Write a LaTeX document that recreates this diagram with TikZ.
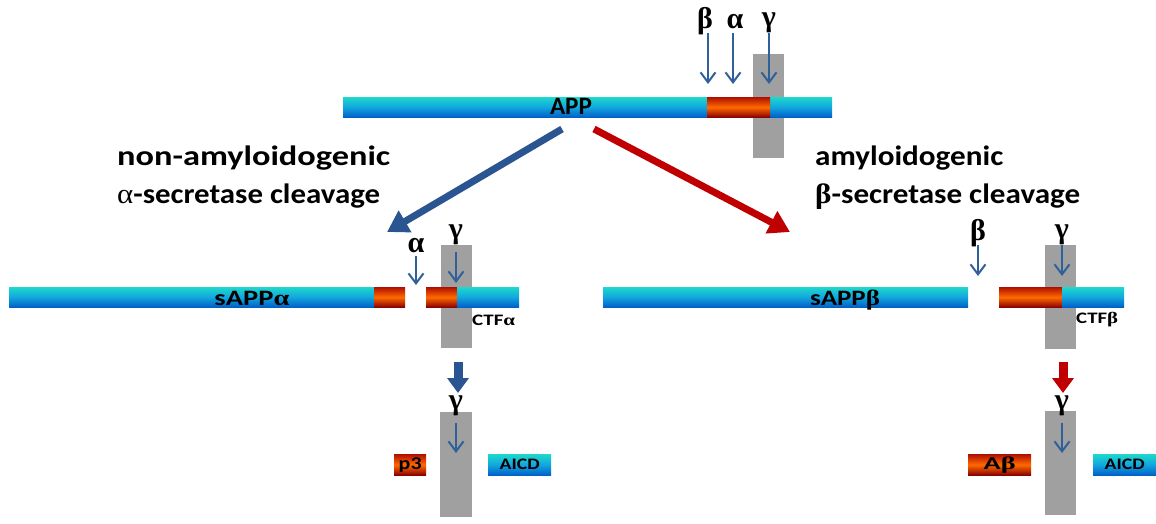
\documentclass[tikz,border=0pt]{standalone}
\usepackage{graphicx}
\usepackage{fontspec}
\setmainfont{Carlito}
\newfontfamily\grk{Liberation Serif}
\usetikzlibrary{arrows.meta}
\definecolor{barTop}{HTML}{1ED8CC}
\definecolor{barMid}{HTML}{12A6DE}
\definecolor{barBot}{HTML}{0060C8}
\definecolor{rTop}{HTML}{B01000}
\definecolor{rMid}{HTML}{FF6A00}
\definecolor{rBot}{HTML}{8A0000}
\definecolor{memb}{HTML}{A0A0A0}
\definecolor{arrBlue}{HTML}{30609A}
\definecolor{bigBlue}{HTML}{2B5590}
\definecolor{bigRed}{HTML}{C00000}
\newcommand{\fitw}[2]{\resizebox{#1}{\height}{#2}}
\tikzset{
  cyanbar/.style={top color=barTop, bottom color=barBot, middle color=barMid, draw=none, inner sep=0pt, anchor=north west},
  redbar/.style={top color=rTop, bottom color=rBot, middle color=rMid, draw=none, inner sep=0pt, anchor=north west},
  membrane/.style={fill=memb, draw=none, inner sep=0pt, anchor=north west},
  greek/.style={font=\grk\bfseries\fontsize{30}{32}\selectfont, inner sep=0pt, anchor=base},
  cutarrow/.style={draw=arrBlue, line width=2pt, -{Straight Barb[length=10pt,width=15pt,line width=2pt]}},
  bigarrow/.style={line width=7pt, -{Triangle[length=21pt,width=24pt]}},
  downarrow/.style={line width=9pt, -{Triangle[length=15pt,width=21pt]}},
  heading/.style={font=\bfseries\fontsize{28}{30}\selectfont, inner sep=0pt, anchor=base west},
  barlabel/.style={font=\bfseries\fontsize{22}{24}\selectfont, inner sep=0pt, anchor=base},
  smalllabel/.style={font=\bfseries\fontsize{16}{17}\selectfont, inner sep=0pt},
}
\begin{document}
\begin{tikzpicture}[x=1pt,y=-1pt]
\useasboundingbox (0,0) rectangle (1156,523);
% ---------- top: APP ----------
\node[membrane, minimum width=31pt, minimum height=104pt] (m0) at (753,54) {};
\node[cyanbar, minimum width=489pt, minimum height=20pt] (app) at (343,97) {};
\node[redbar, minimum width=63pt, minimum height=20pt] (appab) at (707,97) {};
\node[barlabel, font=\bfseries\fontsize{25}{26}\selectfont] (applbl) at (571,114) {\fitw{42pt}{APP}};
\node[greek] (b0) at (705,28) {β};
\node[greek] (a0) at (735,28) {α};
\node[greek] (g0) at (769,26) {γ};
\coordinate (b0s) at (708,33); \coordinate (b0e) at (708,84);
\coordinate (a0s) at (733,33); \coordinate (a0e) at (733,84);
\coordinate (g0s) at (769,33); \coordinate (g0e) at (769,84);
\draw[cutarrow] (b0s) -- (b0e);
\draw[cutarrow] (a0s) -- (a0e);
\draw[cutarrow] (g0s) -- (g0e);
% big arrows
\coordinate (ls) at (562,129); \coordinate (le) at (387,232);
\coordinate (rs) at (594,129); \coordinate (re) at (790,232);
\draw[bigarrow, draw=bigBlue, fill=bigBlue] (ls) -- (le);
\draw[bigarrow, draw=bigRed, fill=bigRed] (rs) -- (re);
% headings
\node[heading] (h1) at (117,165) {\fitw{273pt}{non-amyloidogenic}};
\node[heading] (h2) at (117,203) {\fitw{263pt}{{\grk\mdseries α}-secretase cleavage}};
\node[heading] (h3) at (815,165) {\fitw{188pt}{amyloidogenic}};
\node[heading] (h4) at (815,203) {\fitw{265pt}{{\grk β}-secretase cleavage}};
% ---------- middle left ----------
\node[membrane, minimum width=31pt, minimum height=103pt] (m1) at (441,245) {};
\node[cyanbar, minimum width=365pt, minimum height=20pt] (sa) at (9,287) {};
\node[redbar, minimum width=31pt, minimum height=20pt] (sar) at (374,287) {};
\node[redbar, minimum width=31pt, minimum height=20pt] (car) at (426,287) {};
\node[cyanbar, minimum width=62pt, minimum height=20pt] (cac) at (457,287) {};
\node[barlabel] (salbl) at (252,305) {\fitw{75pt}{sAPP{\grk α}}};
\node[greek] (a1) at (416,252) {α};
\node[greek] (g1) at (456,238) {γ};
\coordinate (a1s) at (416,256); \coordinate (a1e) at (416,285);
\coordinate (g1s) at (456,252); \coordinate (g1e) at (456,283);
\draw[cutarrow] (a1s) -- (a1e);
\draw[cutarrow] (g1s) -- (g1e);
\node[smalllabel, anchor=west] (ctfa) at (472,320) {\fitw{43pt}{CTF{\grk α}}};
% ---------- middle right ----------
\node[membrane, minimum width=31pt, minimum height=104pt] (m2) at (1045,245) {};
\node[cyanbar, minimum width=365pt, minimum height=20pt] (sb) at (603,287) {};
\node[redbar, minimum width=63pt, minimum height=20pt] (cbr) at (999,287) {};
\node[cyanbar, minimum width=62pt, minimum height=20pt] (cbc) at (1062,287) {};
\node[barlabel] (sblbl) at (845,305) {\fitw{70pt}{sAPP{\grk β}}};
\node[greek] (b2) at (978,240) {β};
\node[greek] (g2) at (1062,238) {γ};
\coordinate (b2s) at (978,245); \coordinate (b2e) at (978,276);
\coordinate (g2s) at (1062,245); \coordinate (g2e) at (1062,276);
\draw[cutarrow] (b2s) -- (b2e);
\draw[cutarrow] (g2s) -- (g2e);
\node[smalllabel, anchor=west] (ctfb) at (1076,320) {\fitw{42pt}{CTF{\grk β}}};
% ---------- bottom left ----------
\coordinate (d1s) at (458,362); \coordinate (d1e) at (458,393);
\draw[downarrow, draw=bigBlue, fill=bigBlue] (d1s) -- (d1e);
\node[membrane, minimum width=32pt, minimum height=105pt] (m3) at (440,412) {};
\node[greek] (g3) at (456,409) {γ};
\coordinate (g3s) at (456,423); \coordinate (g3e) at (456,453);
\draw[cutarrow] (g3s) -- (g3e);
\node[redbar, minimum width=32pt, minimum height=21pt] (p3) at (394,454) {};
\node[smalllabel, font=\bfseries\fontsize{18}{18}\selectfont] at (p3.center) {\fitw{23pt}{p3}};
\node[cyanbar, minimum width=63pt, minimum height=21pt] (aicd1) at (488,454) {};
\node[smalllabel] at (aicd1.center) {\fitw{40pt}{AICD}};
% ---------- bottom right ----------
\coordinate (d2s) at (1063,362); \coordinate (d2e) at (1063,393);
\draw[downarrow, draw=bigRed, fill=bigRed] (d2s) -- (d2e);
\node[membrane, minimum width=31pt, minimum height=104pt] (m4) at (1045,411) {};
\node[greek] (g4) at (1062,409) {γ};
\coordinate (g4s) at (1062,423); \coordinate (g4e) at (1062,453);
\draw[cutarrow] (g4s) -- (g4e);
\node[redbar, minimum width=63pt, minimum height=21pt] (ab) at (968,454) {};
\node[smalllabel, font=\bfseries\fontsize{18}{18}\selectfont] at (ab.center) {\fitw{32pt}{A{\grk β}}};
\node[cyanbar, minimum width=63pt, minimum height=21pt] (aicd2) at (1093,454) {};
\node[smalllabel] at (aicd2.center) {\fitw{40pt}{AICD}};
\end{tikzpicture}
\end{document}
